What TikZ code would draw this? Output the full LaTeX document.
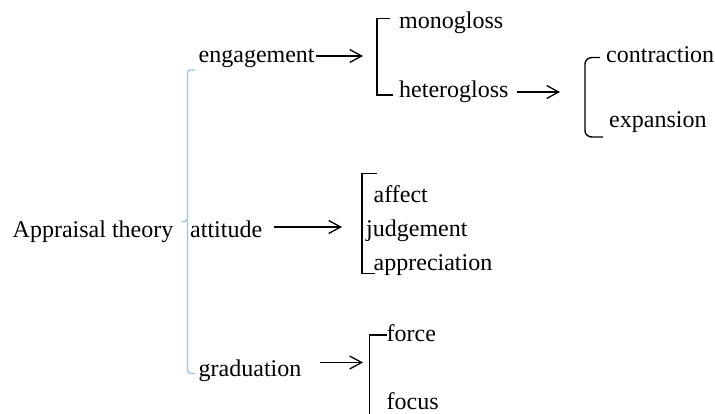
\documentclass[tikz,border=0pt]{standalone}
\usepackage{fontspec}
\setmainfont{Liberation Serif}
\usetikzlibrary{arrows.meta}
\definecolor{brblue}{RGB}{157,195,230}
\begin{document}
\begin{tikzpicture}[x=1pt,y=-1pt,
  lbl/.style={anchor=base west,inner sep=0pt,font=\fontsize{24}{28}\selectfont},
  arr/.style={line width=1.3pt,-{Straight Barb[length=12pt,width=13pt,line width=1.3pt]}},
  brk/.style={line width=1.4pt,black},
  bbrk/.style={line width=1.4pt,color=brblue}]
\useasboundingbox (0,0) rectangle (715,414);
% texts
\node[lbl] (root) at (12.5,237.5) {Appraisal theory};
\node[lbl] (eng) at (198.5,63) {engagement};
\node[lbl] (att) at (190,237) {attitude};
\node[lbl] (grad) at (198.5,376.5) {graduation};
\node[lbl] (mono) at (399,29) {monogloss};
\node[lbl] (hetero) at (399,98) {heterogloss};
\node[lbl] (contr) at (606,62.5) {contraction};
\node[lbl] (expa) at (609,128) {expansion};
\node[lbl] (aff) at (373.5,202.5) {affect};
\node[lbl] (judg) at (366,236.5) {judgement};
\node[lbl] (appr) at (373.5,271) {appreciation};
\node[lbl] (force) at (386.5,341.7) {force};
\node[lbl] (focus) at (386.5,409.5) {focus};
% arrow ends
\coordinate (e1) at (363,56);
\coordinate (e2) at (560,92);
\coordinate (e3) at (342,227);
\coordinate (e4) at (363,362.5);
\draw[arr] (eng.east |- e1) ++(1.5,0) -- (e1);
\draw[arr] (hetero.east |- e2) ++(8,0) -- (e2);
\draw[arr] (att.east |- e3) ++(12,0) -- (e3);
\draw[arr] (grad.east |- e4) ++(18,0) -- (e4);
% blue bracket
\draw[bbrk] (195,70) -- (190,70) to[out=180,in=90] (187.5,73) -- (187.5,218) to[out=-90,in=0] (185,221.5) -- (181.5,221.5);
\draw[bbrk] (187.5,221.5) -- (187.5,370) to[out=-90,in=180] (190.5,373.5) -- (195,373.5);
% black brackets
\draw[brk] (390,18.5) -- (377,18.5) -- (377,95) -- (393,95);
\draw[brk] (600,57.5) -- (592,57.5) to[out=180,in=90] (585,64) -- (585,131) to[out=-90,in=180] (592,137) -- (603,137);
\draw[brk] (377,173.5) -- (362,173.5) -- (362,273.5) -- (375,273.5);
\draw[brk] (386.5,335) -- (369.5,335) -- (369.5,414);
\end{tikzpicture}
\end{document}
